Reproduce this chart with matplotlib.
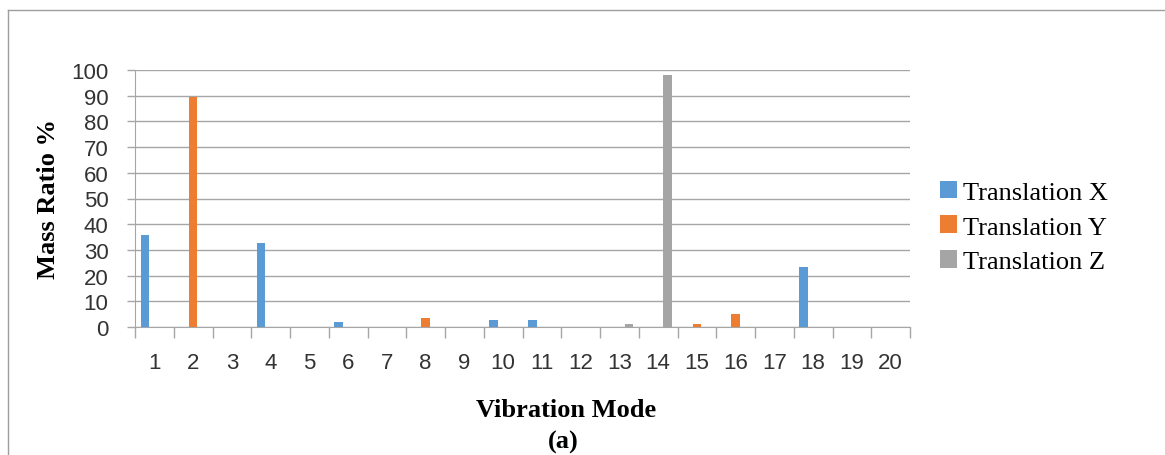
import numpy as np
import matplotlib.pyplot as plt
from matplotlib.lines import Line2D

modes = list(range(1, 21))
trans_x = [35.8, 0, 0, 32.7, 0, 2.1, 0, 0, 0, 2.7, 2.7, 0, 0, 0, 0, 0, 0, 23.2, 0, 0]
trans_y = [0, 89.3, 0, 0, 0, 0, 0, 3.6, 0, 0, 0, 0, 0, 0, 1.2, 5.1, 0, 0, 0, 0]
trans_z = [0, 0, 0, 0, 0, 0, 0, 0, 0, 0, 0, 0, 1.2, 97.9, 0, 0, 0, 0, 0, 0]
labels = ["Translation X", "Translation Y", "Translation Z"]
colors = ["#5b9bd5", "#ed7d31", "#a5a5a5"]

fig = plt.figure(figsize=(11.65, 4.56), dpi=100)
ax = fig.add_axes([135/1165, 1 - 328/456, 775/1165, 257/456])

x = np.arange(len(modes))
w = 0.22
off = 0.245
for vals, dx, lab, c in zip([trans_x, trans_y, trans_z], [-off, 0, off], labels, colors):
    ax.bar(x + dx, vals, width=w, color=c, label=lab, zorder=3)

ax.set_xlim(-0.5, len(modes) - 0.5)
ax.set_ylim(0, 100)
ax.set_yticks(range(0, 101, 10))
ax.yaxis.grid(True, color="#a6a6a6", linewidth=1.0, zorder=0)
ax.set_axisbelow(True)

tick_font = {"fontsize": 16, "family": "Liberation Sans", "color": "#333333"}

# category labels centred, tick marks between categories
ax.set_xticks(x)
ax.set_xticklabels([str(m) for m in modes], **tick_font)
ax.set_xticks(np.arange(-0.5, len(modes)), minor=True)
ax.tick_params(axis="x", which="major", length=0, pad=18)
ax.tick_params(axis="x", which="minor", length=8, color="#a6a6a6", width=1.0, direction="out")
ax.set_yticklabels([str(v) for v in range(0, 101, 10)], **tick_font)
ax.tick_params(axis="y", length=6, color="#a6a6a6", width=1.0, pad=13)

for s in ["top", "right"]:
    ax.spines[s].set_visible(False)
ax.spines["left"].set_color("#a6a6a6")
ax.spines["bottom"].set_color("#a6a6a6")

ax.set_ylabel("Mass Ratio %", fontsize=19, family="Liberation Serif", weight="bold", labelpad=8)

fig.text(566/1165, 1 - 411/456, "Vibration Mode", ha="center", va="center",
         fontsize=19, family="Liberation Serif", weight="bold")
fig.text(563/1165, 1 - 442/456, "(a)", ha="center", va="center",
         fontsize=19, family="Liberation Serif", weight="bold")

fig.legend(loc="center left", bbox_to_anchor=(916/1165, 1 - 228/456), frameon=False,
           prop={"family": "Liberation Serif", "size": 19}, handlelength=0.65,
           handleheight=0.65, handletextpad=0.25, labelspacing=0.45)

# outer chart border
fig.add_artist(Line2D([8/1165, 8/1165], [0, 1 - 11/456], transform=fig.transFigure,
                      color="#9e9e9e", linewidth=1.0))
fig.add_artist(Line2D([8/1165, 1], [1 - 11/456, 1 - 11/456], transform=fig.transFigure,
                      color="#9e9e9e", linewidth=1.0))

fig.savefig("out.png", dpi=100)
